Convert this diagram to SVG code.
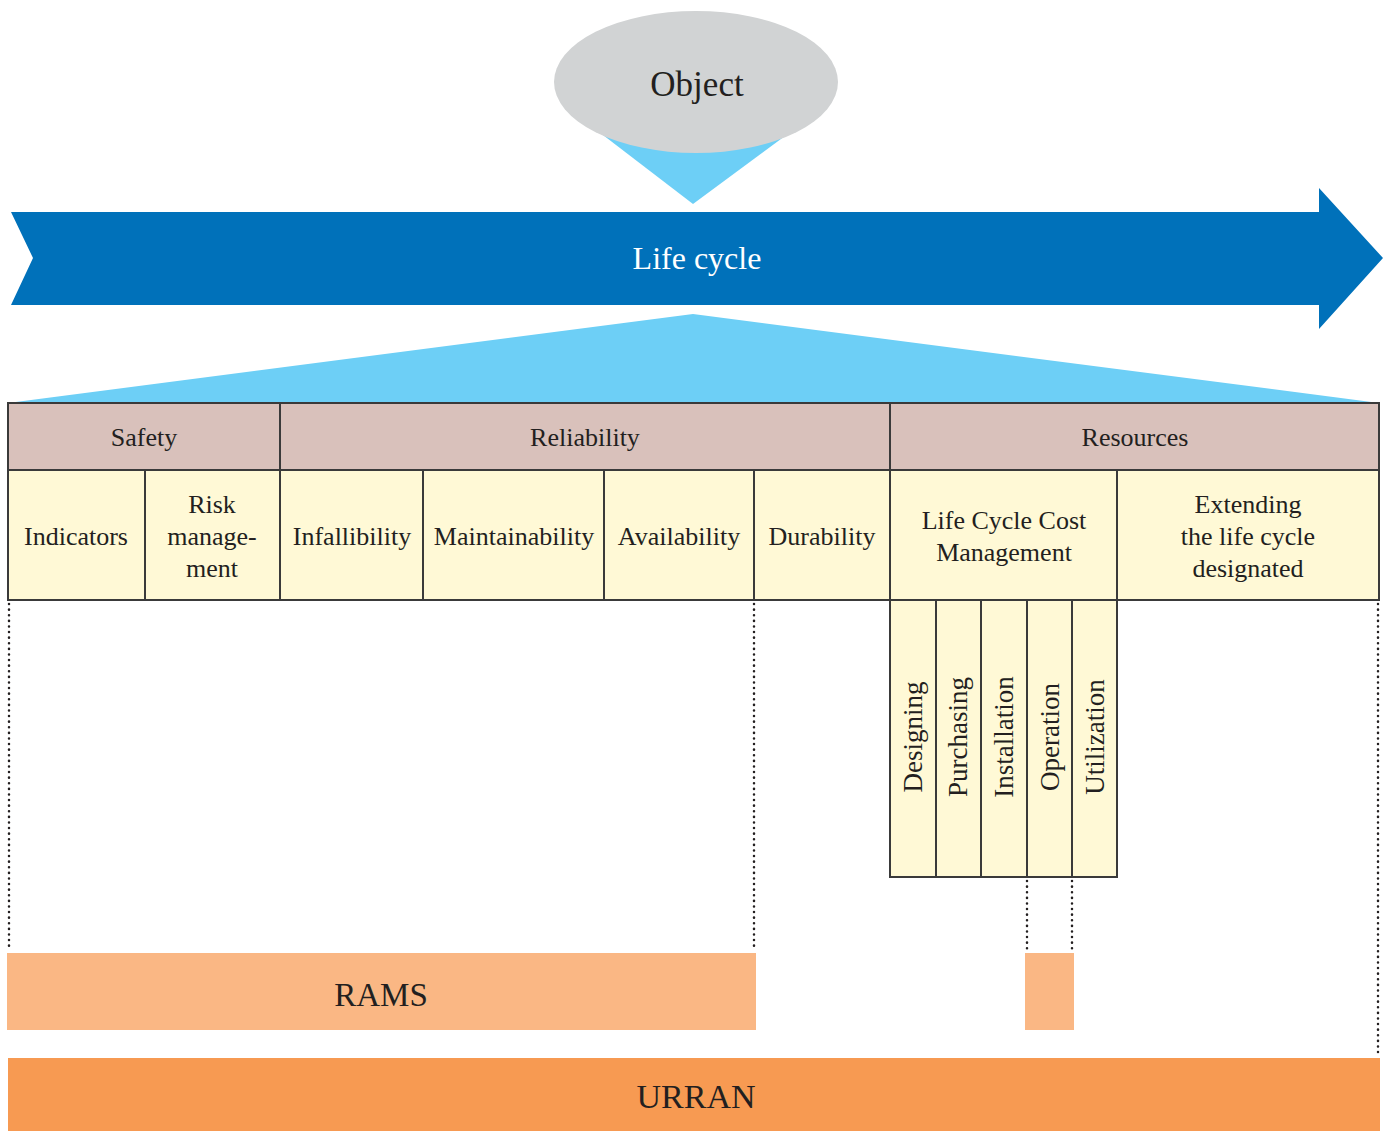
<svg xmlns="http://www.w3.org/2000/svg" width="1389" height="1131" viewBox="0 0 1389 1131">
<style>
text{font-family:"Liberation Serif","Times New Roman",serif;fill:#231F20;text-anchor:middle}
.hd{fill:#D9C1BB;stroke:#3a3a3a;stroke-width:2}
.cell{fill:#FFF9D6;stroke:#3a3a3a;stroke-width:2}
.t24{font-size:26px}
.tv{font-size:27px}
.dot{stroke:#231F20;stroke-width:2.5;stroke-dasharray:0.1 5.5;stroke-linecap:round;fill:none}
</style>
<rect width="1389" height="1131" fill="#fff"/>
<g id="object">
<polygon points="586,122 804,122 693,204" fill="#6DCFF6"/>
<ellipse cx="696" cy="82" rx="142" ry="71" fill="#D1D3D4"/>
<text x="697" y="96" font-size="35">Object</text>
</g>
<g id="lifecycle">
<polygon points="11,212 1319,212 1319,188 1383,258 1319,329 1319,305 11,305 33,258" fill="#0071BA"/>
<text x="697" y="269" font-size="32" style="fill:#fff">Life cycle</text>
</g>
<g id="spread">
<polygon points="693,314 1379,403 8,403" fill="#6DCFF6"/>
</g>
<g id="headers">
<rect class="hd" x="8" y="403" width="272" height="67"/>
<rect class="hd" x="280" y="403" width="610" height="67"/>
<rect class="hd" x="890" y="403" width="489" height="67"/>
<text class="t24" x="144" y="446">Safety</text>
<text class="t24" x="585" y="446">Reliability</text>
<text class="t24" x="1135" y="446">Resources</text>
</g>
<g id="cells">
<rect class="cell" x="8" y="470" width="137" height="130"/>
<rect class="cell" x="145" y="470" width="135" height="130"/>
<rect class="cell" x="280" y="470" width="143" height="130"/>
<rect class="cell" x="423" y="470" width="181" height="130"/>
<rect class="cell" x="604" y="470" width="150" height="130"/>
<rect class="cell" x="754" y="470" width="136" height="130"/>
<rect class="cell" x="890" y="470" width="227" height="130"/>
<rect class="cell" x="1117" y="470" width="262" height="130"/>
<text class="t24" x="76" y="545">Indicators</text>
<text class="t24" x="212" y="513">Risk</text>
<text class="t24" x="212" y="545">manage-</text>
<text class="t24" x="212" y="577">ment</text>
<text class="t24" x="352" y="545">Infallibility</text>
<text class="t24" x="514" y="545">Maintainability</text>
<text class="t24" x="679" y="545">Availability</text>
<text class="t24" x="822" y="545">Durability</text>
<text class="t24" x="1004" y="529">Life Cycle Cost</text>
<text class="t24" x="1004" y="561">Management</text>
<text class="t24" x="1248" y="513">Extending</text>
<text class="t24" x="1248" y="545">the life cycle</text>
<text class="t24" x="1248" y="577">designated</text>
</g>
<g id="lcc-phases">
<rect class="cell" x="890" y="600" width="46" height="277"/>
<rect class="cell" x="936" y="600" width="45" height="277"/>
<rect class="cell" x="981" y="600" width="46" height="277"/>
<rect class="cell" x="1027" y="600" width="45" height="277"/>
<rect class="cell" x="1072" y="600" width="45" height="277"/>
<text class="tv" transform="translate(922,737) rotate(-90)">Designing</text>
<text class="tv" transform="translate(967,737) rotate(-90)">Purchasing</text>
<text class="tv" transform="translate(1013,737) rotate(-90)">Installation</text>
<text class="tv" transform="translate(1059,737) rotate(-90)">Operation</text>
<text class="tv" transform="translate(1104,737) rotate(-90)">Utilization</text>
</g>
<g id="connectors">
<line class="dot" x1="9" y1="604" x2="9" y2="951"/>
<line class="dot" x1="754" y1="604" x2="754" y2="951"/>
<line class="dot" x1="1378" y1="604" x2="1378" y2="1056"/>
<line class="dot" x1="1027" y1="881" x2="1027" y2="951"/>
<line class="dot" x1="1072" y1="881" x2="1072" y2="951"/>
</g>
<g id="rams">
<rect x="7" y="953" width="749" height="77" fill="#FAB784"/>
<text x="381" y="1006" font-size="33">RAMS</text>
</g>
<g id="operation-bar">
<rect x="1025" y="953" width="49" height="77" fill="#FAB784"/>
</g>
<g id="urran">
<rect x="8" y="1058" width="1372" height="73" fill="#F79A52"/>
<text x="696" y="1108" font-size="34">URRAN</text>
</g>
</svg>
